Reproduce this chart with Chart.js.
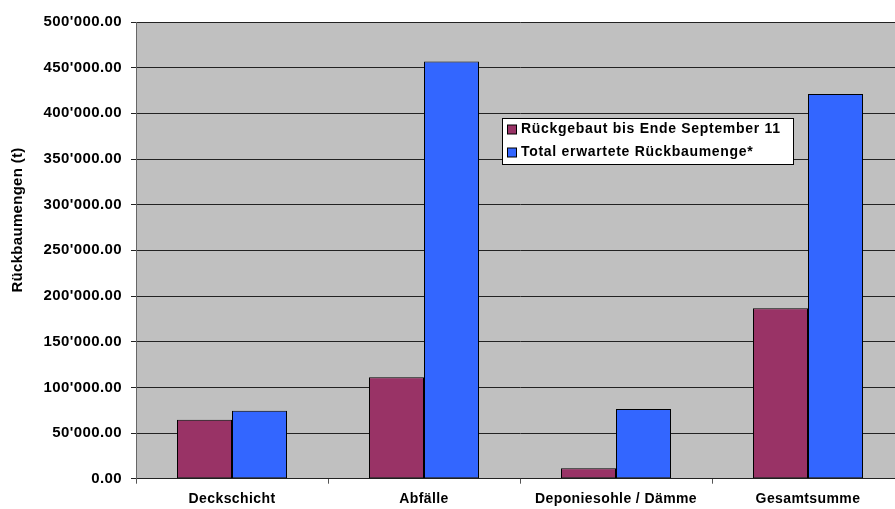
<!DOCTYPE html>
<html>
<head>
<meta charset="utf-8">
<script src="https://cdn.jsdelivr.net/npm/chart.js@4/dist/chart.umd.min.js"></script>
<style>
    html, body { margin: 0; padding: 0; background: #fff; }
    #wrap { width: 895px; height: 509px; overflow: hidden; }
</style>
</head>
<body>
<div id="wrap"><canvas id="chart" width="904" height="509"></canvas></div>
<script>
// Data
const categories = ['Deckschicht', 'Abfälle', 'Deponiesohle / Dämme', 'Gesamtsumme'];
const rueckgebaut = [64600, 111100, 11400, 186700];
const totalErwartet = [74500, 456800, 76400, 421100];
const seriesLabels = ['Rückgebaut bis Ende September 11', 'Total erwartete Rückbaumenge*'];
const yTicks = [0, 50000, 100000, 150000, 200000, 250000, 300000, 350000, 400000, 450000, 500000];
const yTitle = 'Rückbaumengen (t)';

const FONT = "'Liberation Sans', Arial, sans-serif";

function formatSwiss(v) {
    const parts = v.toFixed(2).split('.');
    return parts[0].replace(/\B(?=(\d{3})+(?!\d))/g, "'") + '.' + parts[1];
}

// Gray plot background + slightly wider letter spacing for all text
const plotBackground = {
    id: 'plotBackground',
    beforeDraw(chart) {
        const a = chart.chartArea;
        const ctx = chart.ctx;
        ctx.letterSpacing = '0.4px';
        ctx.save();
        ctx.fillStyle = '#C0C0C0';
        ctx.fillRect(a.left, a.top, a.right - a.left, a.bottom - a.top);
        ctx.restore();
    }
};

// Boxed legend inside the plot and the y axis title, like the original
const boxLegend = {
    id: 'boxLegend',
    afterDraw(chart) {
        const ctx = chart.ctx;
        const x = 502.5, y = 118.5, w = 291, h = 46;
        ctx.save();
        ctx.fillStyle = '#fff';
        ctx.strokeStyle = '#000';
        ctx.lineWidth = 1;
        ctx.fillRect(x, y, w, h);
        ctx.strokeRect(x, y, w, h);
        ctx.font = 'bold 14px ' + FONT;
        ctx.letterSpacing = '0.7px';
        ctx.textBaseline = 'middle';
        const rows = [129.5, 152.5];
        chart.data.datasets.forEach(function(ds, i) {
            ctx.fillStyle = ds.backgroundColor;
            ctx.fillRect(507.5, rows[i] - 4.5, 9, 9);
            ctx.strokeRect(507.5, rows[i] - 4.5, 9, 9);
            ctx.fillStyle = '#000';
            ctx.fillText(ds.label, 521, rows[i]);
        });
        ctx.restore();

        // y axis title
        ctx.save();
        ctx.font = 'bold 15px ' + FONT;
        ctx.letterSpacing = '0.3px';
        ctx.fillStyle = '#000';
        ctx.textAlign = 'center';
        ctx.textBaseline = 'middle';
        ctx.translate(17.5, 220);
        ctx.rotate(-Math.PI / 2);
        ctx.fillText(yTitle, 0, 0);
        ctx.restore();
    }
};

new Chart(document.getElementById('chart'), {
    type: 'bar',
    data: {
        labels: categories,
        datasets: [{
            label: seriesLabels[0],
            data: rueckgebaut,
            backgroundColor: '#993366',
            borderColor: '#000',
            borderWidth: 1,
            borderSkipped: false
        }, {
            label: seriesLabels[1],
            data: totalErwartet,
            backgroundColor: '#3366FF',
            borderColor: '#000',
            borderWidth: 1,
            borderSkipped: false
        }]
    },
    options: {
        responsive: false,
        animation: false,
        devicePixelRatio: 1,
        layout: { padding: { top: 22, right: 0, left: 0, bottom: 0 } },
        datasets: { bar: { categoryPercentage: 0.573, barPercentage: 1 } },
        plugins: {
            legend: { display: false },
            tooltip: { enabled: false }
        },
        scales: {
            x: {
                grid: {
                    offset: true,
                    drawOnChartArea: false,
                    tickLength: 5,
                    color: '#555'
                },
                border: { color: '#222' },
                ticks: {
                    color: '#000',
                    padding: 7,
                    font: { family: FONT, size: 14, weight: 'bold' }
                },
                afterFit(scale) { scale.height = 30.3; }
            },
            y: {
                min: 0,
                max: 500000,
                afterBuildTicks(scale) {
                    scale.ticks = yTicks.map(function(v) { return { value: v }; });
                },
                grid: {
                    color: '#222',
                    tickLength: 5
                },
                border: { color: '#666' },
                ticks: {
                    color: '#000',
                    padding: 9,
                    font: { family: FONT, size: 15, weight: 'bold' },
                    callback: function(v) { return formatSwiss(v); }
                },
                afterFit(scale) { scale.width = 136; }
            }
        }
    },
    plugins: [plotBackground, boxLegend]
});
</script>
</body>
</html>
